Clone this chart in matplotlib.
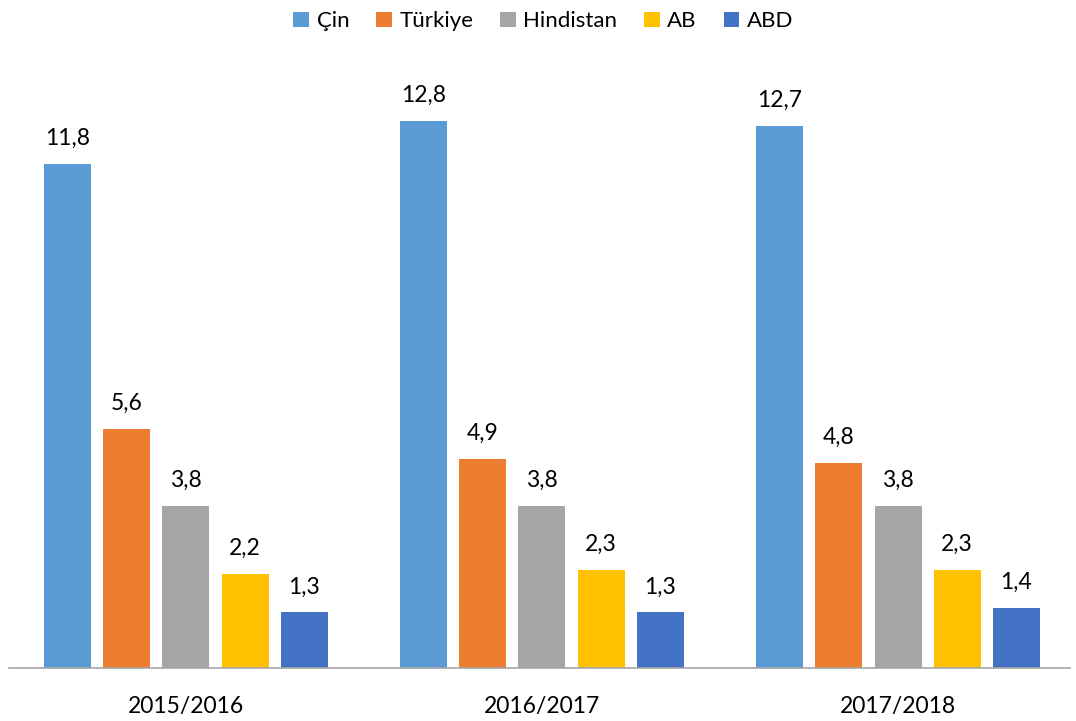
import matplotlib
matplotlib.use("Agg")
import matplotlib.pyplot as plt
import numpy as np

plt.rcParams['font.family'] = ['Lato', 'DejaVu Sans']

categories = ["2015/2016", "2016/2017", "2017/2018"]
series_names = ["Çin", "Türkiye", "Hindistan", "AB", "ABD"]
cin = [11.8, 12.8, 12.7]
turkiye = [5.6, 4.9, 4.8]
hindistan = [3.8, 3.8, 3.8]
ab = [2.2, 2.3, 2.3]
abd = [1.3, 1.3, 1.4]
colors = ["#5B9BD5", "#ED7D31", "#A5A5A5", "#FFC000", "#4472C4"]

series = [cin, turkiye, hindistan, ab, abd]

fig = plt.figure(figsize=(10.76, 7.21), dpi=100)
ax = fig.add_axes([9/1076, (721-668)/721, (1070-9)/1076, (668-70)/721])

x = np.arange(len(categories))
step = 0.1663
width = 0.132
for i, (vals, name, c) in enumerate(zip(series, series_names, colors)):
    pos = x + (i - 2) * step
    bars = ax.bar(pos, vals, width=width, color=c, label=name)
    for b, v in zip(bars, vals):
        ax.text(b.get_x() + b.get_width()/2, v + 0.35, f"{v:.1f}".replace(".", ","),
                ha="center", va="bottom", fontsize=16.5)

ax.set_xlim(-0.497, 2.483)
ax.set_ylim(0, 14)
ax.set_xticks(x)
ax.set_xticklabels(categories, fontsize=16.5)
ax.tick_params(axis='x', length=0, pad=20)
ax.set_yticks([])
for s in ["top", "right", "left"]:
    ax.spines[s].set_visible(False)
ax.spines["bottom"].set_color("#A6A6A6")
ax.spines["bottom"].set_linewidth(1.2)

leg = fig.legend(loc="upper center", bbox_to_anchor=(0.505, 1.012), ncol=5, frameon=False,
                 fontsize=16, handlelength=0.7, handleheight=0.7, handletextpad=0.35,
                 columnspacing=1.2)

fig.savefig("out.png", dpi=100)
